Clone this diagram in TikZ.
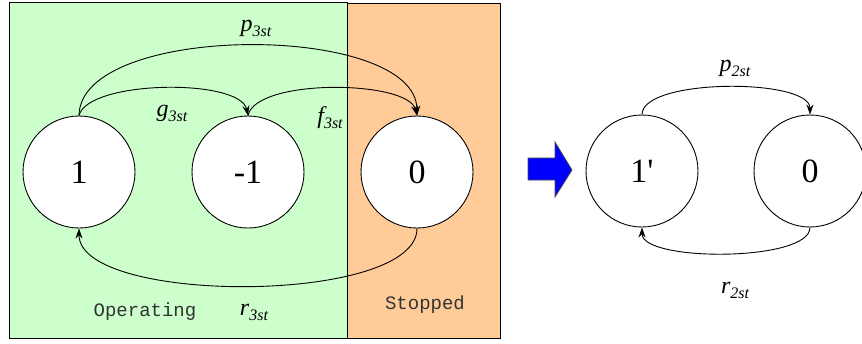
\documentclass[tikz,border=0pt]{standalone}
\usepackage{fontspec}
\setmainfont{Liberation Serif}[Ligatures=TeXOff]
\setmonofont{Liberation Mono}
\usetikzlibrary{arrows.meta}
\definecolor{opgreen}{HTML}{CCFFCC}
\definecolor{storange}{HTML}{FFCC99}
\definecolor{zonetext}{HTML}{333333}
\tikzset{
  state/.style={circle, draw, line width=0.9pt, fill=white, minimum size=112pt, inner sep=0pt, font=\fontsize{34}{34}\selectfont},
  trans/.style={line width=0.9pt, -{Stealth[length=10pt,width=7pt]}},
  rate/.style={font=\fontsize{24}{24}\selectfont\itshape, inner sep=0pt},
  zone/.style={font=\fontsize{19}{19}\selectfont\ttfamily, text=zonetext, inner sep=0pt}
}
\newcommand{\rt}[2]{#1\raisebox{-5pt}{\fontsize{16}{16}\selectfont #2}}
\begin{document}
\begin{tikzpicture}[x=1pt,y=-1pt]
\useasboundingbox (0,0) rectangle (862,343);
\fill[white] (0,0) rectangle (862,343);
\draw[fill=opgreen, line width=0.8pt] (9,2) rectangle (347,338);
\draw[fill=storange, line width=0.8pt] (347,3) rectangle (500,338);

\node[state] (s1) at (79,172) {1};
\node[state] (sm1) at (248,172) {-1};
\node[state] (s0) at (417,172) {0};
\node[state] (r1) at (642,171) {1'};
\node[state] (r0) at (810,171) {0};

\draw[trans] (s1.north) .. controls (80,22) and (416,22) .. (s0.north);
\draw[trans] (s1.north) .. controls (88,80) and (240,78) .. (sm1.north);
\draw[trans] (sm1.north) .. controls (256,78) and (408,80) .. (s0.north);
\draw[trans] (s0.south) .. controls (417,305) and (79,305) .. (s1.south);
\draw[trans] (r1.north) .. controls (642,78) and (810,78) .. (r0.north);
\draw[trans] (r0.south) .. controls (810,262) and (642,262) .. (r1.south);

\node[rate] (lp3) at (256,28) {\rt{p}{3st}};
\node[rate] (lg3) at (172,113) {\rt{g}{3st}};
\node[rate] (lf3) at (330,118) {\rt{f}{3st}};
\node[rate] (lr3) at (254,312) {\rt{r}{3st}};
\node[rate] (lp2) at (735,68) {\rt{p}{2st}};
\node[rate] (lr2) at (735,290) {\rt{r}{2st}};

\node[zone] (op) at (145,312) {Operating};
\node[zone] (st) at (425,305) {Stopped};

\draw[fill=blue, draw=black!70, line width=0.8pt]
  (528,158) -- (555,158) -- (555,142) -- (572,170) -- (555,197) -- (555,180) -- (528,180) -- cycle;
\end{tikzpicture}
\end{document}
